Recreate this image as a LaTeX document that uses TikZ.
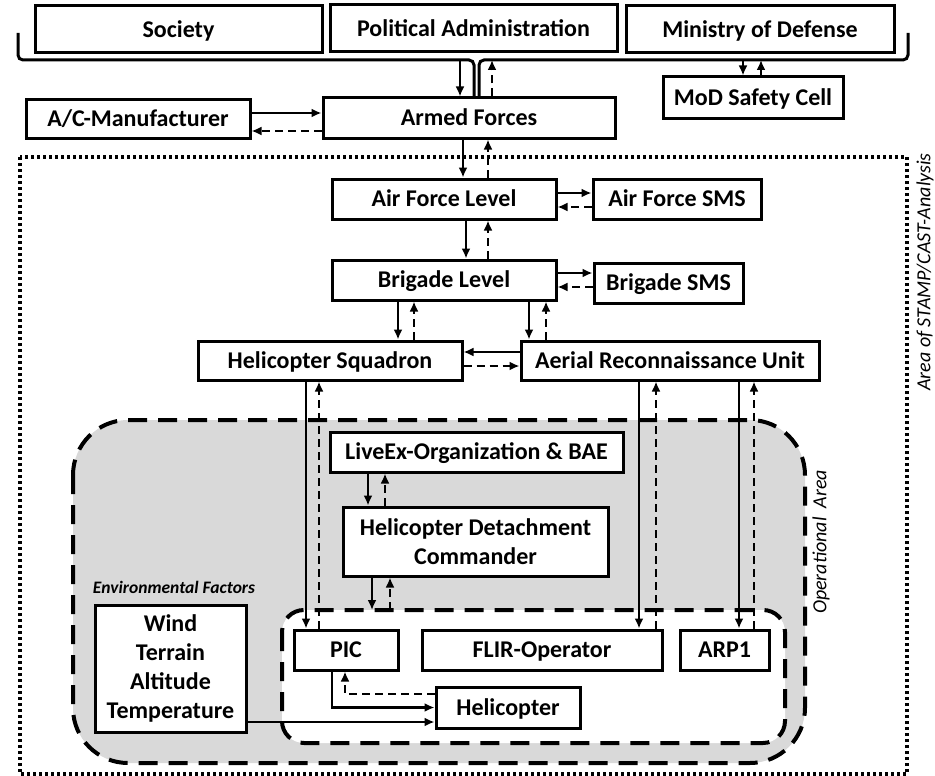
\documentclass[tikz,border=0pt]{standalone}
\usepackage{fontspec}
\setmainfont{Carlito}
\usetikzlibrary{arrows.meta,calc}

\begin{document}
\begin{tikzpicture}[x=1pt,y=-1pt,
  box/.style={draw, line width=3pt, fill=white, inner sep=0pt, align=center,
    font=\fontsize{24}{29}\selectfont\bfseries},
  one/.style={box, text height=15.5pt, text depth=0pt},
  ctl/.style={line width=2.8pt, -{Latex[length=10pt,width=9pt]}},
  fbk/.style={ctl, dash pattern=on 8pt off 5pt},
  region/.style={line width=4pt, dash pattern=on 19pt off 11pt, rounded corners=#1},
  brace/.style={line width=3pt, rounded corners=5pt},
  tag/.style={inner sep=0pt, font=\fontsize{20}{24}\selectfont\itshape}
]
\useasboundingbox (0,0) rectangle (935,776);

% area of the analysis
\draw[line width=3.5pt, dash pattern=on 3pt off 3pt] (20,157) rectangle (907,774);
\node[tag, rotate=90] (scopelabel) at (925,272) {Area of STAMP/CAST-Analysis};

% operational area and the crew area inside it
\draw[region=55pt, fill={rgb,255:red,217;green,217;blue,217}] (73,420) rectangle (805,763);
\draw[region=22pt, fill=white] (282,610) rectangle (785,743);
\coordinate (optop) at (0,610);
\node[tag, rotate=90] (oplabel) at (821,542) {Operational\ \ Area};
\node[inner sep=0pt, font=\fontsize{17.5}{21}\selectfont\bfseries\itshape] (envlabel) at (174,587) {Environmental Factors};

% top level
\node[one, minimum width=287pt, minimum height=47pt] (society) at (178.5,29.5) {Society};
\node[one, minimum width=287pt, minimum height=47pt] (poladm) at (473.5,28.5) {Political Administration};
\node[one, minimum width=268pt, minimum height=47pt] (mod) at (760,29.5) {Ministry of Defense};

% brace under the top level
\coordinate (brline) at (0,60);
\draw[brace] (18,33) -- (18,60) -- (474,60) -- (474,98);
\draw[brace] (479,98) -- (479,60) -- (908,60) -- (908,33);

\node[one, minimum width=224pt, minimum height=38pt] (acm) at (138,119) {A/C-Manufacturer};
\node[one, minimum width=292pt, minimum height=40pt] (armed) at (469,118) {Armed Forces};
\node[one, minimum width=180pt, minimum height=41pt] (safety) at (753,97.5) {MoD Safety Cell};

\node[one, minimum width=224pt, minimum height=40pt] (afl) at (444,199) {Air Force Level};
\node[one, minimum width=168pt, minimum height=40pt] (afsms) at (677,199) {Air Force SMS};
\node[one, minimum width=224pt, minimum height=40pt] (bl) at (444,280) {Brigade Level};
\node[one, minimum width=149pt, minimum height=40pt] (bsms) at (668.5,283) {Brigade SMS};
\node[one, minimum width=264pt, minimum height=39pt] (hs) at (330,360.5) {Helicopter Squadron};
\node[one, minimum width=298pt, minimum height=39pt] (aru) at (670,360.5) {Aerial Reconnaissance Unit};

\node[one, minimum width=293pt, minimum height=40pt] (liveex) at (476.5,452) {LiveEx-Organization \& BAE};
\node[box, minimum width=265pt, minimum height=69pt] (hdc) at (475.5,541.5) {Helicopter Detachment\\Commander};

\node[one, minimum width=104pt, minimum height=40pt] (pic) at (346,650) {PIC};
\node[one, minimum width=240pt, minimum height=40pt] (flir) at (542,650) {FLIR-Operator};
\node[one, minimum width=89pt, minimum height=40pt] (arp) at (724.5,650) {ARP1};
\node[one, minimum width=144pt, minimum height=41pt] (heli) at (508,707.5) {Helicopter};
\node[box, minimum width=151pt, minimum height=127pt] (env) at (170.5,668.5) {Wind\\Terrain\\Altitude\\Temperature};

% control actions (solid) and feedback (dashed)
\draw[ctl] ([xshift=-9pt]armed.north |- brline) -- ([xshift=-9pt]armed.north);
\draw[fbk] ([xshift=23pt]armed.north) -- ([xshift=23pt]armed.north |- brline);
\draw[ctl] ([xshift=-10pt]safety.north |- brline) -- ([xshift=-10pt]safety.north);
\draw[fbk] ([xshift=8pt]safety.north) -- ([xshift=8pt]safety.north |- brline);

\draw[ctl] ([yshift=6pt]acm.east) -- ([yshift=6pt]acm.east -| armed.west);
\draw[fbk] ([yshift=-12pt]acm.east -| armed.west) -- ([yshift=-12pt]acm.east);

\draw[ctl] ([xshift=-6pt]armed.south) -- ([xshift=-6pt]armed.south |- afl.north);
\draw[fbk] ([xshift=19pt]armed.south |- afl.north) -- ([xshift=19pt]armed.south);

\draw[ctl] ([yshift=6pt]afl.east) -- ([yshift=6pt]afl.east -| afsms.west);
\draw[fbk] ([yshift=-8pt]afl.east -| afsms.west) -- ([yshift=-8pt]afl.east);

\draw[ctl] ([xshift=22pt]afl.south) -- ([xshift=22pt]afl.south |- bl.north);
\draw[fbk] ([xshift=44pt]afl.south |- bl.north) -- ([xshift=44pt]afl.south);

\draw[ctl] ([yshift=7pt]bl.east) -- ([yshift=7pt]bl.east -| bsms.west);
\draw[fbk] ([yshift=-7pt]bl.east -| bsms.west) -- ([yshift=-7pt]bl.east);

\draw[ctl] ([xshift=-46pt]bl.south) -- ([xshift=-46pt]bl.south |- hs.north);
\draw[fbk] ([xshift=-30pt]bl.south |- hs.north) -- ([xshift=-30pt]bl.south);
\draw[ctl] ([xshift=85pt]bl.south) -- ([xshift=85pt]bl.south |- aru.north);
\draw[fbk] ([xshift=102pt]bl.south |- aru.north) -- ([xshift=102pt]bl.south);

\draw[ctl] ([yshift=8.5pt]aru.west) -- ([yshift=8.5pt]aru.west -| hs.east);
\draw[fbk] ([yshift=-5.5pt]hs.east) -- ([yshift=-5.5pt]hs.east -| aru.west);

\draw[ctl] ([xshift=-24pt]hs.south) -- ([xshift=-24pt]hs.south |- pic.north);
\draw[fbk] ([xshift=-11pt]hs.south |- pic.north) -- ([xshift=-11pt]hs.south);
\draw[ctl] ([xshift=-31pt]aru.south) -- ([xshift=-31pt]aru.south |- flir.north);
\draw[fbk] ([xshift=-14pt]aru.south |- flir.north) -- ([xshift=-14pt]aru.south);
\draw[ctl] ([xshift=69pt]aru.south) -- ([xshift=69pt]aru.south |- arp.north);
\draw[fbk] ([xshift=84pt]aru.south |- arp.north) -- ([xshift=84pt]aru.south);

\draw[ctl] ([xshift=-108.5pt]liveex.south) -- ([xshift=-108.5pt]liveex.south |- hdc.north);
\draw[fbk] ([xshift=-91.5pt]liveex.south |- hdc.north) -- ([xshift=-91.5pt]liveex.south);
\draw[ctl] ([xshift=-103.5pt]hdc.south) -- ([xshift=-103.5pt]hdc.south |- optop);
\draw[fbk] ([xshift=-85.5pt]hdc.south |- optop) -- ([xshift=-85.5pt]hdc.south);

\draw[ctl] ([xshift=-14pt]pic.south) |- (heli.west);
\draw[fbk] ([yshift=13.5pt]heli.west) -| ([xshift=-1pt]pic.south);
\draw[ctl] ([yshift=-53.5pt]env.east) -- ([yshift=-53.5pt]env.east -| heli.west);
\end{tikzpicture}
\end{document}
